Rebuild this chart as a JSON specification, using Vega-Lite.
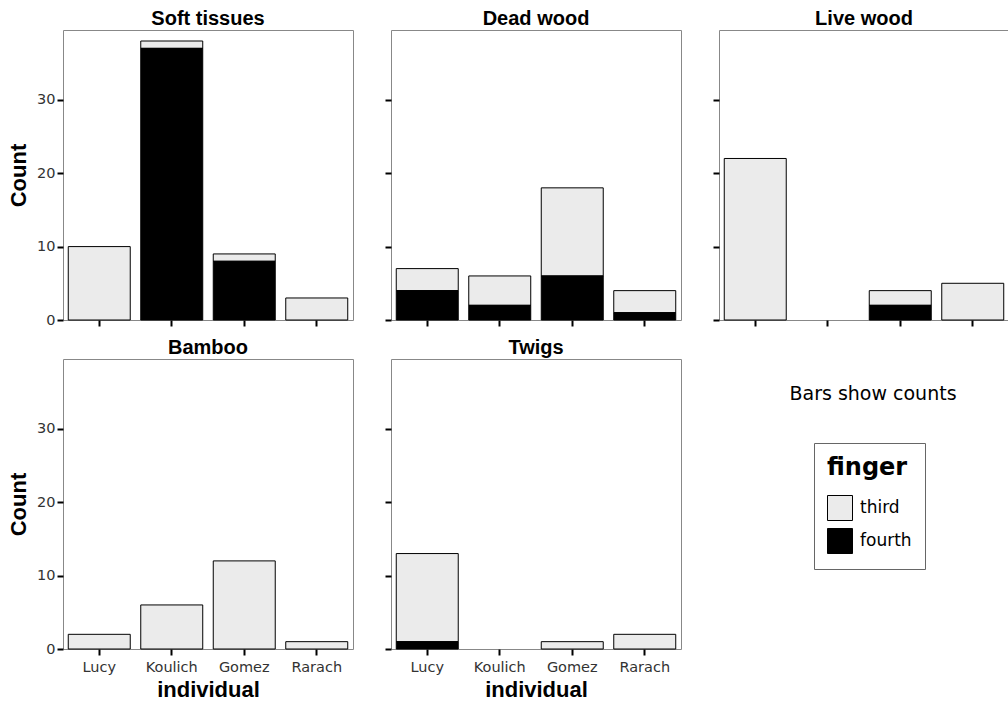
{
  "$schema": "https://vega.github.io/schema/vega-lite/v6.json",
  "background": "white",
  "padding": {"left": 7, "top": 8, "right": 0, "bottom": 0},
  "data": {"values": [
    {"food": "Soft tissues", "individual": "Lucy", "finger": "third", "count": 10},
    {"food": "Soft tissues", "individual": "Koulich", "finger": "third", "count": 1},
    {"food": "Soft tissues", "individual": "Koulich", "finger": "fourth", "count": 37},
    {"food": "Soft tissues", "individual": "Gomez", "finger": "third", "count": 1},
    {"food": "Soft tissues", "individual": "Gomez", "finger": "fourth", "count": 8},
    {"food": "Soft tissues", "individual": "Rarach", "finger": "third", "count": 3},
    {"food": "Dead wood", "individual": "Lucy", "finger": "third", "count": 3},
    {"food": "Dead wood", "individual": "Lucy", "finger": "fourth", "count": 4},
    {"food": "Dead wood", "individual": "Koulich", "finger": "third", "count": 4},
    {"food": "Dead wood", "individual": "Koulich", "finger": "fourth", "count": 2},
    {"food": "Dead wood", "individual": "Gomez", "finger": "third", "count": 12},
    {"food": "Dead wood", "individual": "Gomez", "finger": "fourth", "count": 6},
    {"food": "Dead wood", "individual": "Rarach", "finger": "third", "count": 3},
    {"food": "Dead wood", "individual": "Rarach", "finger": "fourth", "count": 1},
    {"food": "Live wood", "individual": "Lucy", "finger": "third", "count": 22},
    {"food": "Live wood", "individual": "Gomez", "finger": "third", "count": 2},
    {"food": "Live wood", "individual": "Gomez", "finger": "fourth", "count": 2},
    {"food": "Live wood", "individual": "Rarach", "finger": "third", "count": 5},
    {"food": "Bamboo", "individual": "Lucy", "finger": "third", "count": 2},
    {"food": "Bamboo", "individual": "Koulich", "finger": "third", "count": 6},
    {"food": "Bamboo", "individual": "Gomez", "finger": "third", "count": 12},
    {"food": "Bamboo", "individual": "Rarach", "finger": "third", "count": 1},
    {"food": "Twigs", "individual": "Lucy", "finger": "third", "count": 12},
    {"food": "Twigs", "individual": "Lucy", "finger": "fourth", "count": 1},
    {"food": "Twigs", "individual": "Gomez", "finger": "third", "count": 1},
    {"food": "Twigs", "individual": "Rarach", "finger": "third", "count": 2}
  ]},
  "columns": 3,
  "bounds": "flush",
  "spacing": {"row": 39, "column": 38},
  "concat": [
    {
      "width": 290, "height": 290,
      "title": "Soft tissues",
      "transform": [{"filter": "datum.food == 'Soft tissues'"}],
      "mark": {"type": "bar", "stroke": "black", "strokeWidth": 1},
      "encoding": {
        "x": {"field": "individual", "type": "nominal", "scale": {"domain": ["Lucy", "Koulich", "Gomez", "Rarach"], "paddingInner": 0.145, "paddingOuter": 0.0725}, "axis": {"title": null, "labels": false}},
        "y": {"field": "count", "type": "quantitative", "stack": "zero", "scale": {"domain": [0, 39.5], "nice": false}, "axis": {"values": [0, 10, 20, 30], "title": "Count", "labelFontSize": 14.5}},
        "color": {"field": "finger", "type": "nominal", "title": "finger", "scale": {"domain": ["third", "fourth"], "range": ["#ebebeb", "#000000"]}, "legend": {"orient": "none", "legendX": 751, "legendY": 413}},
        "order": {"field": "finger", "sort": "ascending"}
      }
    },
    {
      "width": 290, "height": 290,
      "title": "Dead wood",
      "transform": [{"filter": "datum.food == 'Dead wood'"}],
      "mark": {"type": "bar", "stroke": "black", "strokeWidth": 1},
      "encoding": {
        "x": {"field": "individual", "type": "nominal", "scale": {"domain": ["Lucy", "Koulich", "Gomez", "Rarach"], "paddingInner": 0.145, "paddingOuter": 0.0725}, "axis": {"title": null, "labels": false}},
        "y": {"field": "count", "type": "quantitative", "stack": "zero", "scale": {"domain": [0, 39.5], "nice": false}, "axis": {"values": [0, 10, 20, 30], "title": null, "labels": false}},
        "color": {"field": "finger", "type": "nominal", "title": "finger", "scale": {"domain": ["third", "fourth"], "range": ["#ebebeb", "#000000"]}, "legend": {"orient": "none", "legendX": 751, "legendY": 413}},
        "order": {"field": "finger", "sort": "ascending"}
      }
    },
    {
      "width": 290, "height": 290,
      "title": "Live wood",
      "transform": [{"filter": "datum.food == 'Live wood'"}],
      "mark": {"type": "bar", "stroke": "black", "strokeWidth": 1},
      "encoding": {
        "x": {"field": "individual", "type": "nominal", "scale": {"domain": ["Lucy", "Koulich", "Gomez", "Rarach"], "paddingInner": 0.145, "paddingOuter": 0.0725}, "axis": {"title": null, "labels": false}},
        "y": {"field": "count", "type": "quantitative", "stack": "zero", "scale": {"domain": [0, 39.5], "nice": false}, "axis": {"values": [0, 10, 20, 30], "title": null, "labels": false}},
        "color": {"field": "finger", "type": "nominal", "title": "finger", "scale": {"domain": ["third", "fourth"], "range": ["#ebebeb", "#000000"]}, "legend": {"orient": "none", "legendX": 751, "legendY": 413}},
        "order": {"field": "finger", "sort": "ascending"}
      }
    },
    {
      "width": 290, "height": 290,
      "title": "Bamboo",
      "transform": [{"filter": "datum.food == 'Bamboo'"}],
      "mark": {"type": "bar", "stroke": "black", "strokeWidth": 1},
      "encoding": {
        "x": {"field": "individual", "type": "nominal", "scale": {"domain": ["Lucy", "Koulich", "Gomez", "Rarach"], "paddingInner": 0.145, "paddingOuter": 0.0725}, "axis": {"title": "individual", "labelAngle": 0, "labelFontSize": 14.5}},
        "y": {"field": "count", "type": "quantitative", "stack": "zero", "scale": {"domain": [0, 39.5], "nice": false}, "axis": {"values": [0, 10, 20, 30], "title": "Count", "labelFontSize": 14.5}},
        "color": {"field": "finger", "type": "nominal", "title": "finger", "scale": {"domain": ["third", "fourth"], "range": ["#ebebeb", "#000000"]}, "legend": {"orient": "none", "legendX": 751, "legendY": 413}},
        "order": {"field": "finger", "sort": "ascending"}
      }
    },
    {
      "width": 290, "height": 290,
      "title": "Twigs",
      "transform": [{"filter": "datum.food == 'Twigs'"}],
      "mark": {"type": "bar", "stroke": "black", "strokeWidth": 1},
      "encoding": {
        "x": {"field": "individual", "type": "nominal", "scale": {"domain": ["Lucy", "Koulich", "Gomez", "Rarach"], "paddingInner": 0.145, "paddingOuter": 0.0725}, "axis": {"title": "individual", "labelAngle": 0, "labelFontSize": 14.5}},
        "y": {"field": "count", "type": "quantitative", "stack": "zero", "scale": {"domain": [0, 39.5], "nice": false}, "axis": {"values": [0, 10, 20, 30], "title": null, "labels": false}},
        "color": {"field": "finger", "type": "nominal", "title": "finger", "scale": {"domain": ["third", "fourth"], "range": ["#ebebeb", "#000000"]}, "legend": {"orient": "none", "legendX": 751, "legendY": 413}},
        "order": {"field": "finger", "sort": "ascending"}
      }
    },
    {
      "width": 290, "height": 290,
      "data": {"values": []},
      "view": {"stroke": null},
      "title": {"text": "Bars show counts", "font": "DejaVu Sans", "fontSize": 19, "fontWeight": "normal", "anchor": "middle", "baseline": "top", "offset": 0, "dx": 9, "dy": 45},
      "mark": "text",
      "encoding": {}
    }
  ],
  "config": {
    "view": {"stroke": "#888888", "strokeWidth": 1},
    "title": {"font": "Liberation Sans", "fontSize": 20, "fontWeight": "bold", "color": "black", "baseline": "alphabetic", "offset": 1, "anchor": "middle"},
    "axis": {
      "grid": false, "domain": false,
      "tickColor": "black", "tickSize": 6, "tickWidth": 2,
      "labelFont": "DejaVu Sans", "labelColor": "#333333", "labelPadding": 2,
      "titleFont": "Liberation Sans", "titleFontWeight": "bold", "titleFontSize": 22, "titleColor": "black"
    },
    "axisX": {"labelPadding": 5, "titlePadding": 6},
    "axisY": {"titlePadding": 6},
    "legend": {
      "titleFont": "DejaVu Sans", "titleFontSize": 24, "titleFontWeight": "bold", "titleColor": "black", "titlePadding": 15,
      "labelFont": "DejaVu Sans", "labelFontSize": 17, "labelColor": "black", "labelOffset": 7,
      "symbolType": "square", "symbolSize": 625, "symbolStrokeColor": "black", "symbolStrokeWidth": 1, "symbolOpacity": 1,
      "strokeColor": "#666666", "fillColor": "white", "padding": 13, "rowPadding": 3
    }
  }
}
